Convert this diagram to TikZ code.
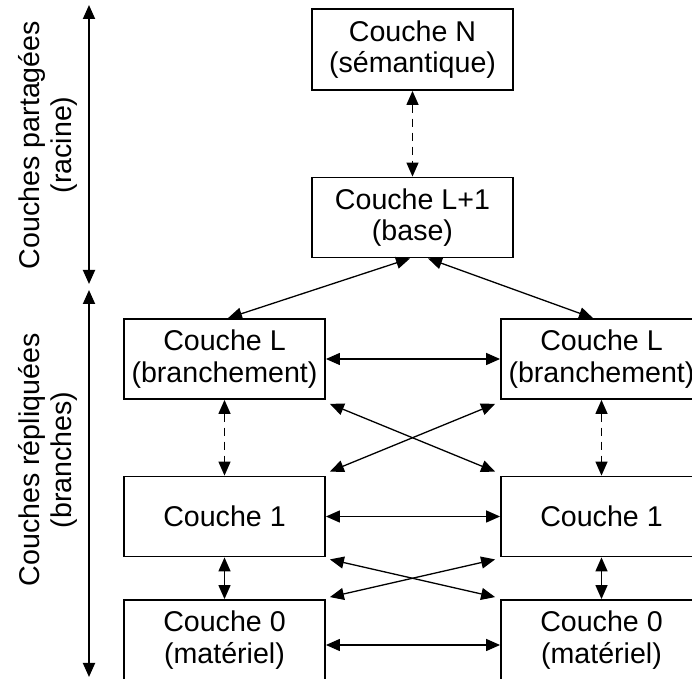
\documentclass[tikz,border=0pt]{standalone}
\usepackage{fontspec}
\setmainfont{Liberation Sans}
\usepackage{tikz}
\usetikzlibrary{positioning}
\usetikzlibrary{arrows.meta}

\tikzset{
  couche/.style={draw, rectangle, line width=0.9pt, minimum width=100.5pt, minimum height=40pt, inner sep=0pt, align=center, font=\fontsize{14.3}{15.8}\selectfont},
  lien/.style={{Triangle[length=7pt,width=6pt]}-{Triangle[length=7pt,width=6pt]}, line width=0.65pt},
  tiret/.style={lien, dash pattern=on 4pt off 3pt},
  axe/.style={lien, line width=0.9pt},
  legende/.style={rotate=90, align=center, inner sep=0pt, font=\fontsize{14.3}{15.8}\selectfont}
}

\begin{document}
\begin{tikzpicture}[x=0.5pt, y=-0.5pt]
  \useasboundingbox (0,0) rectangle (692,679);
  \clip (0,0) rectangle (692,679);

  % shared layers (root)
  \node[couche, minimum height=40.5pt] (cN) at (412.5,49.5) {Couche N\\(sémantique)};
  \node[couche] (cBase) at (412.5,217.5) {Couche L+1\\(base)};

  % replicated layers (branches)
  \node[couche] (lL) at (224.5,359) {Couche L\\(branchement)};
  \node[couche] (rL) at (601.5,359) {Couche L\\(branchement)};
  \node[couche] (lC1) at (224.5,516.5) {Couche 1};
  \node[couche] (rC1) at (601.5,516.5) {Couche 1};
  \node[couche] (lC0) at (224.5,640) {Couche 0\\(matériel)};
  \node[couche] (rC0) at (601.5,640) {Couche 0\\(matériel)};

  \draw[tiret] (cN) -- (cBase);
  \draw[lien] ([xshift=-1.25pt]cBase.south) -- ([xshift=1.75pt]lL.north);
  \draw[lien] ([xshift=7.75pt]cBase.south) -- ([xshift=-4.25pt]rL.north);

  \draw[lien] (lL) -- (rL);
  \draw[lien] (lC1) -- (rC1);
  \draw[lien] ([yshift=-2.5pt]lC0.east) -- ([yshift=-2.5pt]rC0.west);

  \draw[tiret] (lL) -- (lC1);
  \draw[tiret] (rL) -- (rC1);
  \draw[lien] (lC1) -- (lC0);
  \draw[lien] (rC1) -- (rC0);

  \draw[lien] ([shift={(4,4)}]lL.south east) -- ([shift={(-5,-4)}]rC1.north west);
  \draw[lien] ([shift={(-5,4)}]rL.south west) -- ([shift={(4,-4)}]lC1.north east);
  \draw[lien] ([shift={(4,2)}]lC1.south east) -- ([shift={(-5,-2)}]rC0.north west);
  \draw[lien] ([shift={(-5,2)}]rC1.south west) -- ([shift={(4,-2)}]lC0.north east);

  % left scale
  \coordinate (hautA) at (89,5);
  \coordinate (milA) at (89,284);
  \coordinate (milB) at (89,290);
  \coordinate (basB) at (89,677);
  \draw[axe] (hautA) -- (milA);
  \draw[axe] (milB) -- (basB);
  \node[legende] (partage) at (48,145) {Couches partagées\\(racine)};
  \node[legende] (replique) at (48,460) {Couches répliquées\\(branches)};
\end{tikzpicture}
\end{document}
